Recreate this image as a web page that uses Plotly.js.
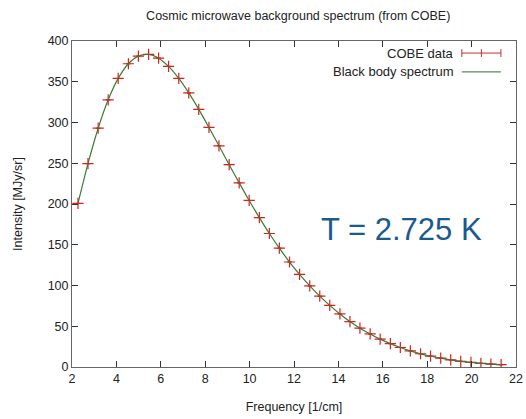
<!DOCTYPE html>
<html>
<head>
<meta charset="utf-8">
<script src="https://cdn.plot.ly/plotly-3.0.1.min.js"></script>
<style>html,body{margin:0;padding:0;background:#fff;}#chart{width:526px;height:419px;}</style>
</head>
<body>
<div id="chart"></div>
<script>
const frequency = [2.27, 2.72, 3.18, 3.63, 4.08, 4.54, 4.99, 5.45, 5.90, 6.35, 6.81, 7.26, 7.71, 8.17, 8.62, 9.08, 9.53, 9.98, 10.44, 10.89, 11.34, 11.80, 12.25, 12.71, 13.16, 13.61, 14.07, 14.52, 14.97, 15.43, 15.88, 16.34, 16.79, 17.24, 17.70, 18.15, 18.61, 19.06, 19.51, 19.97, 20.42, 20.87, 21.33];
const cobeIntensity = [200.72, 249.51, 293.02, 327.77, 354.08, 372.08, 381.49, 383.48, 378.90, 368.83, 354.06, 336.28, 316.08, 293.92, 271.43, 248.24, 225.94, 204.33, 183.26, 163.83, 145.75, 128.84, 113.57, 99.45, 86.87, 75.57, 65.11, 55.75, 47.65, 40.56, 34.25, 28.66, 23.92, 19.81, 16.23, 13.24, 10.82, 8.73, 6.99, 5.60, 4.47, 3.57, 2.81];
const cobeError = [0.14, 0.19, 0.14, 0.09, 0.07, 0.06, 0.05, 0.04, 0.04, 0.04, 0.04, 0.04, 0.03, 0.03, 0.03, 0.03, 0.03, 0.03, 0.03, 0.03, 0.03, 0.03, 0.03, 0.03, 0.03, 0.03, 0.03, 0.03, 0.03, 0.03, 0.03, 0.03, 0.03, 0.03, 0.03, 0.03, 0.03, 0.03, 0.03, 0.03, 0.03, 0.03, 0.03];
const blackBody = [200.7, 249.5, 293.0, 327.8, 354.1, 372.1, 381.5, 383.5, 378.9, 368.8, 354.1, 336.3, 316.1, 293.9, 271.4, 248.2, 225.9, 204.3, 183.3, 163.8, 145.8, 128.8, 113.6, 99.5, 86.9, 75.6, 65.1, 55.7, 47.6, 40.6, 34.2, 28.7, 23.9, 19.8, 16.2, 13.2, 10.8, 8.7, 7.0, 5.6, 4.5, 3.6, 2.8];
const xTicks = [2, 4, 6, 8, 10, 12, 14, 16, 18, 20, 22];
const yTicks = [0, 50, 100, 150, 200, 250, 300, 350, 400];

const FONT = 'Liberation Sans, Arial, sans-serif';
const RED = '#e41a1c';
const GREEN = '#3b7a34';

const traces = [
  {
    x: frequency, y: cobeIntensity, type: 'scatter', mode: 'markers',
    marker: {symbol: 'cross-thin-open', size: 8, color: RED, line: {color: RED, width: 1.2}},
    error_y: {type: 'data', array: cobeError, visible: true, color: RED, thickness: 1, width: 2},
    name: 'COBE data', showlegend: false
  },
  {
    x: frequency, y: blackBody, type: 'scatter', mode: 'lines',
    line: {color: GREEN, width: 1.2, shape: 'spline', smoothing: 0.8},
    name: 'Black body spectrum', showlegend: false, hoverinfo: 'skip'
  }
];

const axisCommon = {
  showline: true, mirror: 'allticks', linecolor: '#666', linewidth: 1,
  ticks: 'inside', ticklen: 6, tickcolor: '#333', tickwidth: 1,
  showgrid: false, zeroline: false,
  tickfont: {family: FONT, size: 12.5, color: '#222'}
};

const layout = {
  width: 526, height: 419,
  margin: {l: 72, r: 10, t: 41, b: 52},
  paper_bgcolor: '#fff', plot_bgcolor: '#fff',
  font: {family: FONT, color: '#222'},
  title: {text: 'Cosmic microwave background spectrum (from COBE)', font: {family: FONT, size: 12.5, color: '#222'}, x: 0.567, xanchor: 'center', y: 0.962, yanchor: 'middle'},
  xaxis: Object.assign({}, axisCommon, {
    range: [2, 22], tickvals: xTicks, ticktext: xTicks.map(String),
    title: {text: 'Frequency [1/cm]', font: {family: FONT, size: 12.5, color: '#222'}, standoff: 17}
  }),
  yaxis: Object.assign({}, axisCommon, {
    range: [0, 400], tickvals: yTicks, ticktext: yTicks.map(String),
    title: {text: 'Intensity [MJy/sr]', font: {family: FONT, size: 12.5, color: '#222'}, standoff: 22}
  }),
  annotations: [
    {xref: 'paper', yref: 'paper', x: 0.865, y: 0.963, xanchor: 'right', yanchor: 'middle', showarrow: false, text: 'COBE data', font: {family: FONT, size: 13, color: '#222'}},
    {xref: 'paper', yref: 'paper', x: 0.865, y: 0.905, xanchor: 'right', yanchor: 'middle', showarrow: false, text: 'Black body spectrum', font: {family: FONT, size: 13, color: '#222'}},
    {xref: 'paper', yref: 'paper', x: 0.741, y: 0.423, xanchor: 'center', yanchor: 'middle', showarrow: false, text: 'T = 2.725 K', font: {family: FONT, size: 31, color: '#1a5a8c'}}
  ],
  shapes: [
    {type: 'line', xref: 'paper', yref: 'paper', x0: 0.878, x1: 0.966, y0: 0.963, y1: 0.963, line: {color: '#c03030', width: 1}},
    {type: 'line', xref: 'paper', yref: 'paper', x0: 0.878, x1: 0.878, y0: 0.951, y1: 0.975, line: {color: '#c03030', width: 1}},
    {type: 'line', xref: 'paper', yref: 'paper', x0: 0.966, x1: 0.966, y0: 0.951, y1: 0.975, line: {color: '#c03030', width: 1}},
    {type: 'line', xref: 'paper', yref: 'paper', x0: 0.922, x1: 0.922, y0: 0.951, y1: 0.975, line: {color: '#c03030', width: 1}},
    {type: 'line', xref: 'paper', yref: 'paper', x0: 0.878, x1: 0.966, y0: 0.905, y1: 0.905, line: {color: '#5a8a5a', width: 1.2}}
  ]
};

Plotly.newPlot('chart', traces, layout, {displayModeBar: false, staticPlot: true});
</script>
</body>
</html>
